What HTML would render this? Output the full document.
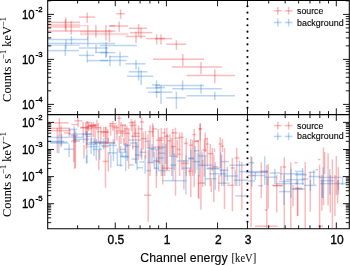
<!DOCTYPE html>
<html><head><meta charset="utf-8"><style>
html,body{margin:0;padding:0;background:#fff;}
body{width:350px;height:265px;overflow:hidden;position:relative;}
svg{position:absolute;left:0;top:0;display:block;}
.txt{will-change:transform;}
</style></head><body>
<svg width="350" height="265" viewBox="0 0 350 265">
<rect width="350" height="265" fill="#fff"/>
<g fill="none" stroke-linecap="butt">
<g stroke="rgb(235,30,35)" stroke-opacity="0.3" stroke-width="1.5">
<path d="M48.0 22.4H80.0"/>
<path d="M65.9 17.4V31.5"/>
<path d="M65.4 19.5V29.5"/>
<path d="M48.0 31.0H115.6"/>
<path d="M71.2 21.0V34.8"/>
<path d="M79.0 17.1H95.0"/>
<path d="M87.3 12.6V22.9"/>
<path d="M87.8 25.0V38.5"/>
<path d="M95.9 25.0V37.5"/>
<path d="M105.9 25.0V40.5"/>
<path d="M109.4 29.2V42.0"/>
<path d="M109.3 25.9H115.0"/>
<path d="M116.3 13.7H124.9"/>
<path d="M120.6 9.4V18.9"/>
<path d="M109.4 26.0H128.3"/>
<path d="M119.2 21.4V31.7"/>
<path d="M129.0 28.3H147.0"/>
<path d="M138.6 24.0V36.0"/>
<path d="M130.0 32.6H152.3"/>
<path d="M141.0 27.4V38.6"/>
<path d="M125.7 36.5H145.5"/>
<path d="M136.0 31.7V42.9"/>
<path d="M146.0 38.6H165.0"/>
<path d="M156.6 34.3V44.6"/>
<path d="M155.0 38.6H172.0"/>
<path d="M161.0 34.3V44.6"/>
<path d="M166.1 44.2H186.2"/>
<path d="M176.4 40.3V49.7"/>
<path d="M153.0 59.2H204.0"/>
<path d="M182.8 54.0V66.0"/>
<path d="M172.0 67.0H221.8"/>
<path d="M201.0 62.0V74.3"/>
<path d="M186.6 75.4H235.0"/>
<path d="M214.8 69.3V83.3"/>
<path d="M53.7 122.9H68.6"/>
<path d="M59.4 118.0V135.7"/>
<path d="M48.0 128.3H69.7"/>
<path d="M48.0 130.6H70.9"/>
<path d="M61.1 125.4V147.0"/>
<path d="M57.3 128.0V152.9"/>
<path d="M74.3 120.9H82.3"/>
<path d="M78.0 117.4V127.3"/>
<path d="M71.5 124.6H77.8"/>
<path d="M80.0 127.8H89.5"/>
<path d="M80.5 127.4H89.0"/>
<path d="M83.1 122.0V136.8"/>
<path d="M85.8 122.0V135.3"/>
<path d="M88.4 122.0V131.5"/>
<path d="M88.4 125.2H96.0"/>
<path d="M88.4 126.2H96.0"/>
<path d="M84.0 145.0V158.6"/>
<path d="M86.3 131.0V149.4"/>
<path d="M64.0 133.1H70.4"/>
<path d="M69.4 128.3V137.8"/>
<path d="M71.0 135.7H77.8"/>
<path d="M71.0 141.0H80.0"/>
<path d="M73.7 134.0V162.0"/>
<path d="M75.4 136.0V168.0"/>
<path d="M74.6 130.0V169.0"/>
<path d="M87.1 120.9V148.3"/>
<path d="M91.5 122.0V144.0"/>
<path d="M93.4 122.0V137.0"/>
<path d="M95.1 124.0V144.0"/>
<path d="M96.9 119.7V130.0"/>
<path d="M98.3 123.0V142.0"/>
<path d="M98.8 150.0V170.3"/>
<path d="M100.9 126.6V144.0"/>
<path d="M103.7 126.6V137.0"/>
<path d="M106.0 126.6V144.0"/>
<path d="M107.7 129.0V144.0"/>
<path d="M110.6 122.6V135.7"/>
<path d="M112.9 120.9V131.1"/>
<path d="M114.6 125.4V144.0"/>
<path d="M116.9 125.4V140.3"/>
<path d="M117.4 118.3H121.4"/>
<path d="M119.1 115.7V131.1"/>
<path d="M119.3 136.0V152.9"/>
<path d="M120.9 122.0V144.0"/>
<path d="M122.6 124.3V137.0"/>
<path d="M105.5 127.0V187.7"/>
<path d="M108.3 138.0V142.6"/>
<path d="M108.3 152.0V171.6"/>
<path d="M102.6 161.4H108.3"/>
<path d="M123.7 138.0V145.0"/>
<path d="M86.0 122.6H90.6"/>
<path d="M88.3 125.4H97.4"/>
<path d="M86.0 126.6H93.0"/>
<path d="M90.6 127.7H100.9"/>
<path d="M86.0 128.9H92.3"/>
<path d="M96.9 131.7H108.3"/>
<path d="M100.9 132.3H108.9"/>
<path d="M109.4 123.7H116.3"/>
<path d="M108.9 126.0H116.9"/>
<path d="M112.3 127.7H119.1"/>
<path d="M115.7 131.1H126.0"/>
<path d="M116.3 132.9H123.7"/>
<path d="M120.3 125.4H126.0"/>
<path d="M95.1 143.1H114.6"/>
<path d="M102.0 146.6H108.9"/>
<path d="M125.1 124.3V152.0"/>
<path d="M126.9 125.4V147.0"/>
<path d="M128.6 128.9V168.9"/>
<path d="M124.0 128.9H129.7"/>
<path d="M124.0 133.4H129.7"/>
<path d="M131.4 119.1V131.1"/>
<path d="M128.6 122.6H135.4"/>
<path d="M129.7 125.4H136.6"/>
<path d="M132.8 120.9V149.4"/>
<path d="M134.9 119.7V136.9"/>
<path d="M135.6 127.7V163.1"/>
<path d="M133.7 133.4H140.0"/>
<path d="M130.9 136.3H140.0"/>
<path d="M138.5 125.4V159.7"/>
<path d="M141.7 117.4V159.7"/>
<path d="M140.0 122.0H144.0"/>
<path d="M138.3 128.9H142.9"/>
<path d="M143.2 132.3V149.4"/>
<path d="M145.5 131.1V158.6"/>
<path d="M141.1 138.6H146.9"/>
<path d="M148.0 134.6V148.0"/>
<path d="M150.0 125.4V176.0"/>
<path d="M148.0 131.7H153.7"/>
<path d="M152.6 123.1V136.9"/>
<path d="M153.2 125.4V157.4"/>
<path d="M152.6 128.9H157.1"/>
<path d="M156.4 150.0V188.0"/>
<path d="M158.3 128.9V162.0"/>
<path d="M156.0 140.3H163.7"/>
<path d="M158.3 138.0H164.0"/>
<path d="M148.2 150.0V221.8"/>
<path d="M144.0 195.2H151.4"/>
<path d="M162.7 165.0V184.5"/>
<path d="M153.1 147.1H160.0"/>
<path d="M153.1 160.9H158.9"/>
<path d="M162.0 132.9H165.4"/>
<path d="M164.3 136.3H168.9"/>
<path d="M167.7 140.9H171.1"/>
<path d="M171.1 132.9H177.4"/>
<path d="M174.6 138.0H179.1"/>
<path d="M179.1 137.4H183.7"/>
<path d="M192.3 134.6H195.7"/>
<path d="M194.0 141.4H198.6"/>
<path d="M198.6 128.9H202.0"/>
<path d="M159.8 138.0V164.0"/>
<path d="M161.3 128.0V176.0"/>
<path d="M164.6 128.0V176.0"/>
<path d="M166.8 127.7V170.0"/>
<path d="M167.3 134.0V170.0"/>
<path d="M170.0 134.6V155.6"/>
<path d="M171.8 138.0V176.0"/>
<path d="M172.9 128.9V155.0"/>
<path d="M175.5 127.7V195.7"/>
<path d="M177.2 140.0V158.0"/>
<path d="M179.6 132.3V176.0"/>
<path d="M182.0 132.3V170.0"/>
<path d="M183.9 160.0V189.4"/>
<path d="M186.2 138.0V176.0"/>
<path d="M189.8 167.6V176.0"/>
<path d="M190.8 139.0V197.0"/>
<path d="M192.8 140.0V176.0"/>
<path d="M194.2 128.9V187.0"/>
<path d="M198.4 140.0V198.0"/>
<path d="M200.3 123.7V150.0"/>
<path d="M202.6 160.0V187.0"/>
<path d="M184.2 143.4H187.8"/>
<path d="M189.0 145.2H192.6"/>
<path d="M170.9 146.5H175.7"/>
<path d="M176.9 149.5H180.5"/>
<path d="M177.5 154.3H181.1"/>
<path d="M181.1 163.4H189.0"/>
<path d="M195.0 141.0H198.6"/>
<path d="M161.6 168.2H172.4"/>
<path d="M188.0 171.2H192.8"/>
<path d="M160.4 147.2H165.2"/>
<path d="M200.1 123.3V140.5"/>
<path d="M198.7 129.0H201.6"/>
<path d="M205.2 132.6V152.0"/>
<path d="M204.5 139.8V152.0"/>
<path d="M204.5 139.0H207.3"/>
<path d="M207.3 137.6V152.0"/>
<path d="M205.9 144.0H208.7"/>
<path d="M210.2 144.0V152.0"/>
<path d="M214.5 148.4V152.0"/>
<path d="M220.2 136.9V152.0"/>
<path d="M218.8 144.0H221.6"/>
<path d="M222.4 139.0V152.0"/>
<path d="M220.9 146.2H223.8"/>
<path d="M236.7 147.7V152.0"/>
<path d="M200.9 150.0V209.7"/>
<path d="M204.4 152.0V176.6"/>
<path d="M207.3 152.0V166.6"/>
<path d="M210.2 152.0V186.0"/>
<path d="M212.3 148.0V171.0"/>
<path d="M213.8 155.0V202.3"/>
<path d="M220.2 152.0V168.0"/>
<path d="M221.6 155.0V186.0"/>
<path d="M224.5 148.0V209.0"/>
<path d="M232.4 158.0V211.4"/>
<path d="M236.7 152.0V186.0"/>
<path d="M241.8 162.0V209.7"/>
<path d="M198.8 175.0V199.0"/>
<path d="M211.3 180.0V192.0"/>
<path d="M218.8 175.0V191.5"/>
<path d="M227.0 185.3H233.7"/>
<path d="M202.3 150.1H206.6"/>
<path d="M208.0 153.7H213.8"/>
<path d="M212.3 166.6H218.0"/>
<path d="M230.9 168.0H235.2"/>
<path d="M234.5 158.0H239.5"/>
<path d="M198.0 183.1H205.2"/>
<path d="M251.1 156.3V227.0"/>
<path d="M261.3 162.3V198.0"/>
<path d="M266.7 165.0V228.0"/>
<path d="M268.2 164.0V208.7"/>
<path d="M284.3 157.2V228.0"/>
<path d="M290.8 162.3V228.0"/>
<path d="M280.9 166.0V180.0"/>
<path d="M276.7 175.0V212.6"/>
<path d="M293.0 185.0V206.0"/>
<path d="M297.5 180.0V216.0"/>
<path d="M247.7 175.5H254.5"/>
<path d="M260.4 171.2H268.0"/>
<path d="M273.2 185.7H282.5"/>
<path d="M282.5 167.0H286.0"/>
<path d="M294.4 162.7H297.5"/>
<path d="M255.0 226.2H277.6"/>
<path d="M264.5 209.9H267.5"/>
<path d="M272.0 185.4H283.0"/>
<path d="M293.0 189.0H303.0"/>
<path d="M305.2 162.0V228.0"/>
<path d="M310.3 172.3V211.7"/>
<path d="M319.6 164.6V228.0"/>
<path d="M321.8 175.0V210.8"/>
<path d="M323.5 147.6V205.0"/>
<path d="M324.7 151.9V174.0"/>
<path d="M328.1 153.6V205.4"/>
<path d="M330.3 175.0V212.6"/>
<path d="M332.4 159.5V228.0"/>
<path d="M334.9 175.0V216.2"/>
<path d="M336.3 156.1V195.0"/>
<path d="M337.6 180.0V203.5"/>
<path d="M338.3 167.2V190.0"/>
<path d="M297.7 187.2V216.2"/>
<path d="M315.4 169.7H318.0"/>
<path d="M318.0 159.5H320.5"/>
<path d="M318.0 226.2H323.0"/>
<path d="M273.9 10.8H281.7"/>
<path d="M277.8 6.9V14.7"/>
<path d="M284.7 10.8H292.5"/>
<path d="M288.6 6.9V14.7"/>
<path d="M273.9 125.6H281.7"/>
<path d="M277.8 121.7V129.5"/>
<path d="M284.7 125.6H292.5"/>
<path d="M288.6 121.7V129.5"/>
<path d="M48.0 26.0H80.0" stroke-opacity="0.225" stroke-width="3.6"/>
<path d="M80.0 25.7H87.0" stroke-opacity="0.180"/>
<path d="M80.0 34.0H128.4" stroke-opacity="0.180" stroke-width="2.4"/>
<path d="M80.0 31.4H112.6" stroke-opacity="0.180"/>
</g>
<g stroke="rgb(30,115,210)" stroke-opacity="0.3" stroke-width="1.5">
<path d="M48.0 39.5H88.3"/>
<path d="M48.0 43.4H79.7"/>
<path d="M79.7 43.5H115.0"/>
<path d="M48.0 50.6H79.0"/>
<path d="M79.0 48.0H108.0"/>
<path d="M79.0 55.4H94.3"/>
<path d="M87.3 60.6H108.0"/>
<path d="M95.0 52.5H108.0"/>
<path d="M66.0 39.4V48.9"/>
<path d="M71.4 36.0V44.5"/>
<path d="M65.3 45.0V56.0"/>
<path d="M87.8 37.0V47.0"/>
<path d="M87.3 50.4V62.6"/>
<path d="M96.0 44.6V52.5"/>
<path d="M106.3 47.0V57.4"/>
<path d="M100.0 45.4H136.9"/>
<path d="M100.0 52.6H115.4"/>
<path d="M109.4 56.6H128.3"/>
<path d="M100.0 60.5H126.6"/>
<path d="M125.4 63.8H145.5"/>
<path d="M128.8 71.8H147.5"/>
<path d="M106.0 42.0V57.4"/>
<path d="M120.0 51.4V66.0"/>
<path d="M110.0 55.7V66.0"/>
<path d="M136.0 60.0V69.5"/>
<path d="M127.0 76.3H153.2"/>
<path d="M138.6 66.9V80.6"/>
<path d="M141.2 70.3V84.9"/>
<path d="M146.0 88.0H160.0"/>
<path d="M148.0 92.2H160.0"/>
<path d="M152.0 84.9H160.0"/>
<path d="M156.6 80.4V97.8"/>
<path d="M155.0 85.5H204.0"/>
<path d="M172.3 88.7H221.8"/>
<path d="M155.0 87.6H165.0"/>
<path d="M155.0 92.2H172.3"/>
<path d="M166.2 97.8H185.6"/>
<path d="M186.6 95.8H235.0"/>
<path d="M182.6 80.4V90.6"/>
<path d="M201.0 84.5V93.7"/>
<path d="M161.0 85.5V104.0"/>
<path d="M176.4 91.6V109.0"/>
<path d="M214.8 91.7V100.0"/>
<path d="M48.0 137.4H68.6"/>
<path d="M48.0 141.4H64.0"/>
<path d="M50.3 142.0H67.4"/>
<path d="M50.3 143.1H68.6"/>
<path d="M58.9 135.0V153.4"/>
<path d="M61.5 134.0V145.4"/>
<path d="M68.3 129.4H77.3"/>
<path d="M74.1 126.2V143.0"/>
<path d="M75.7 131.5V143.0"/>
<path d="M68.3 134.1H91.6"/>
<path d="M70.4 137.3H83.1"/>
<path d="M72.6 139.4H89.5"/>
<path d="M83.6 132.5V143.0"/>
<path d="M64.0 149.2H73.7"/>
<path d="M69.1 144.3V156.9"/>
<path d="M86.0 134.0H91.7"/>
<path d="M86.0 136.3H90.6"/>
<path d="M87.1 131.0V144.0"/>
<path d="M92.9 142.0H106.6"/>
<path d="M96.3 139.0V160.6"/>
<path d="M113.4 139.0V161.0"/>
<path d="M88.3 142.6H114.6"/>
<path d="M86.0 144.3H97.4"/>
<path d="M100.9 145.4H116.9"/>
<path d="M88.3 146.6H98.6"/>
<path d="M92.9 149.4H102.0"/>
<path d="M86.9 149.4V163.1"/>
<path d="M91.1 138.0V154.0"/>
<path d="M94.0 138.0V156.3"/>
<path d="M99.7 141.4V159.7"/>
<path d="M103.7 138.0V149.4"/>
<path d="M110.0 143.7V155.1"/>
<path d="M108.9 152.9H116.9"/>
<path d="M117.4 148.3V165.4"/>
<path d="M116.9 165.4H122.6"/>
<path d="M110.8 155.0V167.7"/>
<path d="M86.5 155.0V163.8"/>
<path d="M128.6 140.0H141.0"/>
<path d="M130.0 143.0H138.0"/>
<path d="M144.6 141.4H150.3"/>
<path d="M124.0 145.4H131.0"/>
<path d="M132.0 146.6H139.0"/>
<path d="M146.9 148.3H156.0"/>
<path d="M120.6 146.0V166.6"/>
<path d="M122.0 153.0V157.5"/>
<path d="M120.0 149.4H125.7"/>
<path d="M120.0 152.3H126.9"/>
<path d="M120.0 156.3H128.0"/>
<path d="M125.7 143.0V171.1"/>
<path d="M127.4 144.0V161.0"/>
<path d="M122.3 156.9H129.1"/>
<path d="M131.4 159.1H137.1"/>
<path d="M136.0 142.0V164.3"/>
<path d="M137.1 144.0V170.0"/>
<path d="M134.9 155.1H140.6"/>
<path d="M129.1 164.9H133.7"/>
<path d="M137.1 167.7H142.9"/>
<path d="M141.1 148.3V157.4"/>
<path d="M139.4 152.3H146.3"/>
<path d="M139.4 162.0H144.0"/>
<path d="M145.1 155.0V173.4"/>
<path d="M149.1 143.0V163.1"/>
<path d="M146.3 170.6H150.9"/>
<path d="M152.0 144.0V163.1"/>
<path d="M150.9 149.4H158.9"/>
<path d="M147.4 162.6H154.3"/>
<path d="M154.3 151.7V168.9"/>
<path d="M156.6 157.4V175.7"/>
<path d="M154.3 168.3H158.9"/>
<path d="M156.6 162.0H160.0"/>
<path d="M158.6 146.0V170.0"/>
<path d="M162.8 143.0V176.0"/>
<path d="M165.8 144.0V164.0"/>
<path d="M173.0 146.0V180.7"/>
<path d="M174.2 153.0V170.0"/>
<path d="M185.9 155.6V194.4"/>
<path d="M191.0 149.6V170.0"/>
<path d="M195.2 146.0V173.6"/>
<path d="M158.0 148.4H162.8"/>
<path d="M158.0 153.2H165.2"/>
<path d="M168.8 156.2H177.2"/>
<path d="M158.0 158.0H164.0"/>
<path d="M177.2 161.0H189.2"/>
<path d="M188.0 158.0H194.0"/>
<path d="M188.0 158.8H194.0"/>
<path d="M170.0 165.2H176.0"/>
<path d="M182.0 168.2H189.2"/>
<path d="M158.0 170.6H170.0"/>
<path d="M194.0 150.8H200.0"/>
<path d="M192.8 161.6H200.0"/>
<path d="M162.7 180.7H186.3"/>
<path d="M199.4 152.3V176.6"/>
<path d="M202.3 152.3V166.6"/>
<path d="M205.2 156.6V186.0"/>
<path d="M215.2 162.3V189.7"/>
<path d="M220.9 152.3V176.6"/>
<path d="M223.8 169.5V186.0"/>
<path d="M227.4 166.6V181.0"/>
<path d="M235.2 169.5V186.0"/>
<path d="M239.5 160.9V186.0"/>
<path d="M198.0 155.9H206.6"/>
<path d="M221.0 161.6H228.8"/>
<path d="M198.0 165.2H212.3"/>
<path d="M206.6 168.0H219.5"/>
<path d="M206.6 168.8H219.5"/>
<path d="M219.5 170.2H228.0"/>
<path d="M229.5 165.2H248.0"/>
<path d="M239.5 171.6H248.0"/>
<path d="M209.5 173.8H226.6"/>
<path d="M223.8 176.0H238.0"/>
<path d="M205.2 178.8H216.6"/>
<path d="M233.8 180.2H248.0"/>
<path d="M218.0 183.1H229.5"/>
<path d="M235.4 195.9H248.0"/>
<path d="M264.7 156.3V185.0"/>
<path d="M251.9 157.2V187.0"/>
<path d="M255.3 172.0V180.0"/>
<path d="M248.4 162.7H254.4"/>
<path d="M246.0 171.7H268.0"/>
<path d="M246.0 172.5H268.0"/>
<path d="M269.8 173.0H280.0"/>
<path d="M280.0 173.8H305.0"/>
<path d="M252.8 175.5H264.7"/>
<path d="M264.7 177.2H276.6"/>
<path d="M279.0 181.4H290.2"/>
<path d="M258.0 185.7H263.0"/>
<path d="M279.0 191.6H290.2"/>
<path d="M286.0 179.7H305.0"/>
<path d="M292.0 189.0H305.0"/>
<path d="M274.9 168.7V184.0"/>
<path d="M291.0 168.7V198.0"/>
<path d="M297.0 172.0V184.0"/>
<path d="M248.0 181.0H255.0"/>
<path d="M267.6 178.0V185.4"/>
<path d="M284.0 175.0V205.0"/>
<path d="M275.7 183.6H297.5"/>
<path d="M295.0 171.4H303.5"/>
<path d="M302.6 168.0V185.0"/>
<path d="M295.0 174.8H306.9"/>
<path d="M308.6 172.3H315.4"/>
<path d="M308.6 176.5H320.5"/>
<path d="M313.7 169.7V185.0"/>
<path d="M301.8 179.0H308.6"/>
<path d="M318.8 177.4H340.8"/>
<path d="M323.0 167.2V198.0"/>
<path d="M329.8 168.9V194.5"/>
<path d="M320.5 180.7H334.0"/>
<path d="M342.5 175.7V185.0"/>
<path d="M295.0 183.6H304.0"/>
<path d="M320.0 183.6H347.5"/>
<path d="M304.0 185.4H316.7"/>
<path d="M295.0 188.2H302.0"/>
<path d="M310.4 180.0V191.0"/>
<path d="M322.2 180.0V198.0"/>
<path d="M338.5 180.0V194.5"/>
<path d="M273.9 22.5H281.7"/>
<path d="M277.8 18.6V26.4"/>
<path d="M284.7 22.5H292.5"/>
<path d="M288.6 18.6V26.4"/>
<path d="M273.9 136.4H281.7"/>
<path d="M277.8 132.5V140.3"/>
<path d="M284.7 136.4H292.5"/>
<path d="M288.6 132.5V140.3"/>
<path d="M48.0 45.2H79.7" stroke-opacity="0.210"/>
<path d="M197.0 153.0V170.0" stroke-opacity="0.180"/>
</g>
</g>
<g fill="#000"><circle cx="247.46" cy="107.85" r="1.05"/><circle cx="247.46" cy="101.50" r="1.05"/><circle cx="247.46" cy="95.15" r="1.05"/><circle cx="247.46" cy="88.80" r="1.05"/><circle cx="247.46" cy="82.45" r="1.05"/><circle cx="247.46" cy="76.10" r="1.05"/><circle cx="247.46" cy="69.75" r="1.05"/><circle cx="247.46" cy="63.40" r="1.05"/><circle cx="247.46" cy="57.05" r="1.05"/><circle cx="247.46" cy="50.70" r="1.05"/><circle cx="247.46" cy="44.35" r="1.05"/><circle cx="247.46" cy="38.00" r="1.05"/><circle cx="247.46" cy="31.65" r="1.05"/><circle cx="247.46" cy="25.30" r="1.05"/><circle cx="247.46" cy="18.95" r="1.05"/><circle cx="247.46" cy="12.60" r="1.05"/><circle cx="247.46" cy="6.25" r="1.05"/><circle cx="247.46" cy="221.75" r="1.05"/><circle cx="247.46" cy="215.40" r="1.05"/><circle cx="247.46" cy="209.05" r="1.05"/><circle cx="247.46" cy="202.70" r="1.05"/><circle cx="247.46" cy="196.35" r="1.05"/><circle cx="247.46" cy="190.00" r="1.05"/><circle cx="247.46" cy="183.65" r="1.05"/><circle cx="247.46" cy="177.30" r="1.05"/><circle cx="247.46" cy="170.95" r="1.05"/><circle cx="247.46" cy="164.60" r="1.05"/><circle cx="247.46" cy="158.25" r="1.05"/><circle cx="247.46" cy="151.90" r="1.05"/><circle cx="247.46" cy="145.55" r="1.05"/><circle cx="247.46" cy="139.20" r="1.05"/><circle cx="247.46" cy="132.85" r="1.05"/><circle cx="247.46" cy="126.50" r="1.05"/><circle cx="247.46" cy="120.15" r="1.05"/></g>
<path d="M115.26 0.00L115.26 6.30M115.26 114.60L115.26 108.30M166.40 0.00L166.40 6.30M166.40 114.60L166.40 108.30M217.54 0.00L217.54 6.30M217.54 114.60L217.54 108.30M247.46 0.00L247.46 6.30M247.46 114.60L247.46 108.30M336.30 0.00L336.30 6.30M336.30 114.60L336.30 108.30M77.56 0.00L77.56 3.50M77.56 114.60L77.56 111.10M98.79 0.00L98.79 3.50M98.79 114.60L98.79 111.10M128.71 0.00L128.71 3.50M128.71 114.60L128.71 111.10M140.08 0.00L140.08 3.50M140.08 114.60L140.08 111.10M149.93 0.00L149.93 3.50M149.93 114.60L149.93 111.10M158.63 0.00L158.63 3.50M158.63 114.60L158.63 111.10M268.69 0.00L268.69 3.50M268.69 114.60L268.69 111.10M285.16 0.00L285.16 3.50M285.16 114.60L285.16 111.10M298.61 0.00L298.61 3.50M298.61 114.60L298.61 111.10M309.98 0.00L309.98 3.50M309.98 114.60L309.98 111.10M319.83 0.00L319.83 3.50M319.83 114.60L319.83 111.10M328.53 0.00L328.53 3.50M328.53 114.60L328.53 111.10M115.26 114.60L115.26 120.90M115.26 228.80L115.26 222.50M166.40 114.60L166.40 120.90M166.40 228.80L166.40 222.50M217.54 114.60L217.54 120.90M217.54 228.80L217.54 222.50M247.46 114.60L247.46 120.90M247.46 228.80L247.46 222.50M336.30 114.60L336.30 120.90M336.30 228.80L336.30 222.50M77.56 114.60L77.56 118.10M77.56 228.80L77.56 225.30M98.79 114.60L98.79 118.10M98.79 228.80L98.79 225.30M128.71 114.60L128.71 118.10M128.71 228.80L128.71 225.30M140.08 114.60L140.08 118.10M140.08 228.80L140.08 225.30M149.93 114.60L149.93 118.10M149.93 228.80L149.93 225.30M158.63 114.60L158.63 118.10M158.63 228.80L158.63 225.30M268.69 114.60L268.69 118.10M268.69 228.80L268.69 225.30M285.16 114.60L285.16 118.10M285.16 228.80L285.16 225.30M298.61 114.60L298.61 118.10M298.61 228.80L298.61 225.30M309.98 114.60L309.98 118.10M309.98 228.80L309.98 225.30M319.83 114.60L319.83 118.10M319.83 228.80L319.83 225.30M328.53 114.60L328.53 118.10M328.53 228.80L328.53 225.30M47.70 111.37L51.20 111.37M349.30 111.37L345.80 111.37M47.70 108.76L51.20 108.76M349.30 108.76L345.80 108.76M47.70 106.46L51.20 106.46M349.30 106.46L345.80 106.46M47.70 104.40L54.00 104.40M349.30 104.40L343.00 104.40M47.70 90.85L51.20 90.85M349.30 90.85L345.80 90.85M47.70 82.93L51.20 82.93M349.30 82.93L345.80 82.93M47.70 77.31L51.20 77.31M349.30 77.31L345.80 77.31M47.70 72.95L51.20 72.95M349.30 72.95L345.80 72.95M47.70 69.38L51.20 69.38M349.30 69.38L345.80 69.38M47.70 66.37L51.20 66.37M349.30 66.37L345.80 66.37M47.70 63.76L51.20 63.76M349.30 63.76L345.80 63.76M47.70 61.46L51.20 61.46M349.30 61.46L345.80 61.46M47.70 59.40L54.00 59.40M349.30 59.40L343.00 59.40M47.70 45.85L51.20 45.85M349.30 45.85L345.80 45.85M47.70 37.93L51.20 37.93M349.30 37.93L345.80 37.93M47.70 32.31L51.20 32.31M349.30 32.31L345.80 32.31M47.70 27.95L51.20 27.95M349.30 27.95L345.80 27.95M47.70 24.38L51.20 24.38M349.30 24.38L345.80 24.38M47.70 21.37L51.20 21.37M349.30 21.37L345.80 21.37M47.70 18.76L51.20 18.76M349.30 18.76L345.80 18.76M47.70 16.46L51.20 16.46M349.30 16.46L345.80 16.46M47.70 14.40L54.00 14.40M349.30 14.40L343.00 14.40M47.70 0.85L51.20 0.85M349.30 0.85L345.80 0.85M47.70 222.64L51.20 222.64M349.30 222.64L345.80 222.64M47.70 217.87L51.20 217.87M349.30 217.87L345.80 217.87M47.70 214.48L51.20 214.48M349.30 214.48L345.80 214.48M47.70 211.86L51.20 211.86M349.30 211.86L345.80 211.86M47.70 209.71L51.20 209.71M349.30 209.71L345.80 209.71M47.70 207.90L51.20 207.90M349.30 207.90L345.80 207.90M47.70 206.33L51.20 206.33M349.30 206.33L345.80 206.33M47.70 204.94L51.20 204.94M349.30 204.94L345.80 204.94M47.70 203.70L54.00 203.70M349.30 203.70L343.00 203.70M47.70 195.54L51.20 195.54M349.30 195.54L345.80 195.54M47.70 190.77L51.20 190.77M349.30 190.77L345.80 190.77M47.70 187.38L51.20 187.38M349.30 187.38L345.80 187.38M47.70 184.76L51.20 184.76M349.30 184.76L345.80 184.76M47.70 182.61L51.20 182.61M349.30 182.61L345.80 182.61M47.70 180.80L51.20 180.80M349.30 180.80L345.80 180.80M47.70 179.23L51.20 179.23M349.30 179.23L345.80 179.23M47.70 177.84L51.20 177.84M349.30 177.84L345.80 177.84M47.70 176.60L54.00 176.60M349.30 176.60L343.00 176.60M47.70 168.44L51.20 168.44M349.30 168.44L345.80 168.44M47.70 163.67L51.20 163.67M349.30 163.67L345.80 163.67M47.70 160.28L51.20 160.28M349.30 160.28L345.80 160.28M47.70 157.66L51.20 157.66M349.30 157.66L345.80 157.66M47.70 155.51L51.20 155.51M349.30 155.51L345.80 155.51M47.70 153.70L51.20 153.70M349.30 153.70L345.80 153.70M47.70 152.13L51.20 152.13M349.30 152.13L345.80 152.13M47.70 150.74L51.20 150.74M349.30 150.74L345.80 150.74M47.70 149.50L54.00 149.50M349.30 149.50L343.00 149.50M47.70 141.34L51.20 141.34M349.30 141.34L345.80 141.34M47.70 136.57L51.20 136.57M349.30 136.57L345.80 136.57M47.70 133.18L51.20 133.18M349.30 133.18L345.80 133.18M47.70 130.56L51.20 130.56M349.30 130.56L345.80 130.56M47.70 128.41L51.20 128.41M349.30 128.41L345.80 128.41M47.70 126.60L51.20 126.60M349.30 126.60L345.80 126.60M47.70 125.03L51.20 125.03M349.30 125.03L345.80 125.03M47.70 123.64L51.20 123.64M349.30 123.64L345.80 123.64M47.70 122.40L54.00 122.40M349.30 122.40L343.00 122.40" stroke="#000" stroke-width="0.9" fill="none"/>
<path d="M47.7 0.5H349.3M47.7 228.8H349.3M47.7 0V229.3M349.3 0V229.3" fill="none" stroke="#000" stroke-width="1.05"/>
<line x1="47.7" y1="114.6" x2="349.3" y2="114.6" stroke="#000" stroke-width="1.1"/>
</svg>
<svg class="txt" width="350" height="265" viewBox="0 0 350 265"><g font-family="'Liberation Sans', sans-serif" fill="#000" stroke="#000" stroke-width="0.35">
<text x="22.0" y="18.90" font-size="12.3" textLength="12.6" lengthAdjust="spacingAndGlyphs">10</text><text x="35.4" y="11.80" font-size="8" >-</text><text x="38.2" y="12.00" font-size="7.8">2</text><text x="22.0" y="63.90" font-size="12.3" textLength="12.6" lengthAdjust="spacingAndGlyphs">10</text><text x="35.4" y="56.80" font-size="8" >-</text><text x="38.2" y="57.00" font-size="7.8">3</text><text x="22.0" y="108.90" font-size="12.3" textLength="12.6" lengthAdjust="spacingAndGlyphs">10</text><text x="35.4" y="101.80" font-size="8" >-</text><text x="38.2" y="102.00" font-size="7.8">4</text><text x="22.0" y="126.90" font-size="12.3" textLength="12.6" lengthAdjust="spacingAndGlyphs">10</text><text x="35.4" y="119.80" font-size="8" >-</text><text x="38.2" y="120.00" font-size="7.8">2</text><text x="22.0" y="154.00" font-size="12.3" textLength="12.6" lengthAdjust="spacingAndGlyphs">10</text><text x="35.4" y="146.90" font-size="8" >-</text><text x="38.2" y="147.10" font-size="7.8">3</text><text x="22.0" y="181.10" font-size="12.3" textLength="12.6" lengthAdjust="spacingAndGlyphs">10</text><text x="35.4" y="174.00" font-size="8" >-</text><text x="38.2" y="174.20" font-size="7.8">4</text><text x="22.0" y="208.20" font-size="12.3" textLength="12.6" lengthAdjust="spacingAndGlyphs">10</text><text x="35.4" y="201.10" font-size="8" >-</text><text x="38.2" y="201.30" font-size="7.8">5</text><text x="115.96" y="243.9" font-size="12" text-anchor="middle">0.5</text><text x="167.10" y="243.9" font-size="12" text-anchor="middle">1</text><text x="218.24" y="243.9" font-size="12" text-anchor="middle">2</text><text x="248.16" y="243.9" font-size="12" text-anchor="middle">3</text><text x="337.00" y="243.9" font-size="12" text-anchor="middle">10</text><text x="140.3" y="262.3" font-size="12" textLength="87.3" lengthAdjust="spacingAndGlyphs" stroke-width="0.1">Channel energy</text><text x="231.6" y="262.2" font-size="12.2" font-family="'Liberation Serif', serif" textLength="24.6" lengthAdjust="spacingAndGlyphs" fill="#111" stroke-width="0.1">[keV]</text><text transform="translate(10.9 101.90) rotate(-90)" stroke-width="0.05" font-family="'Liberation Serif', serif" font-size="12.6" textLength="85" lengthAdjust="spacingAndGlyphs">Counts s<tspan font-size="8.6" dy="-4.6">&#8722;1</tspan><tspan dy="4.6"> keV</tspan><tspan font-size="8.6" dy="-4.6">&#8722;1</tspan></text><text transform="translate(10.9 217.00) rotate(-90)" stroke-width="0.05" font-family="'Liberation Serif', serif" font-size="12.6" textLength="85" lengthAdjust="spacingAndGlyphs">Counts s<tspan font-size="8.6" dy="-4.6">&#8722;1</tspan><tspan dy="4.6"> keV</tspan><tspan font-size="8.6" dy="-4.6">&#8722;1</tspan></text><text x="297.0" y="14.10" font-size="8.9" textLength="26.4" lengthAdjust="spacingAndGlyphs" stroke-width="0.12">source</text><text x="297.0" y="25.50" font-size="8.9" textLength="46.6" lengthAdjust="spacingAndGlyphs" stroke-width="0.12">background</text><text x="297.0" y="128.90" font-size="8.9" textLength="26.4" lengthAdjust="spacingAndGlyphs" stroke-width="0.12">source</text><text x="297.0" y="139.40" font-size="8.9" textLength="46.6" lengthAdjust="spacingAndGlyphs" stroke-width="0.12">background</text>
</g></svg>
</body></html>
